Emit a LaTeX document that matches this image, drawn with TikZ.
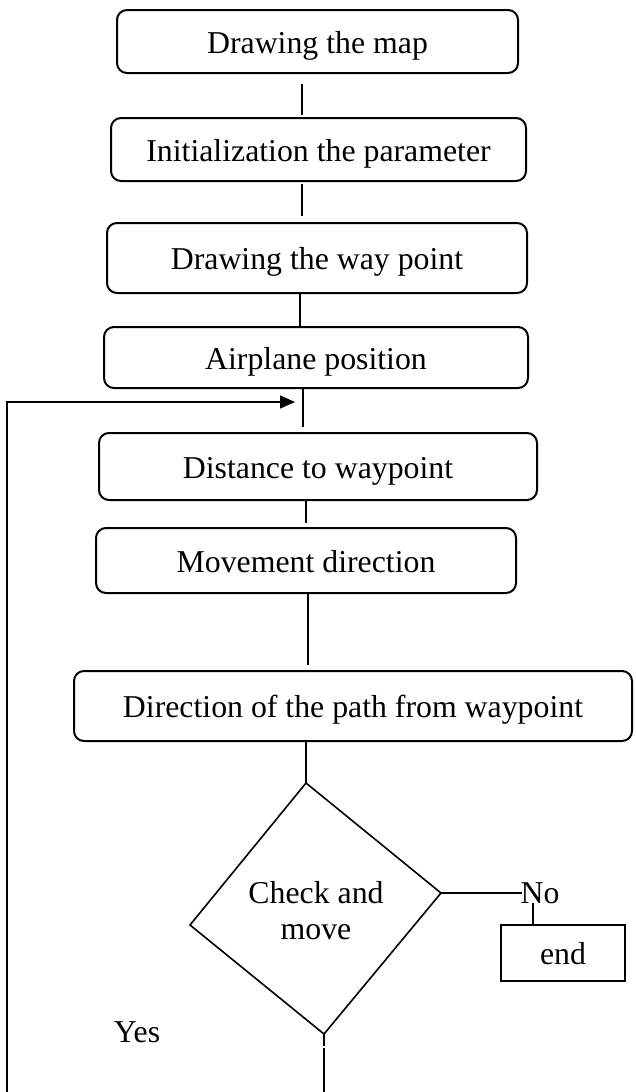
\documentclass[tikz,border=0pt]{standalone}
\usepackage{fontspec}
\setmainfont{Liberation Serif}
\usetikzlibrary{arrows.meta}
\begin{document}
\begin{tikzpicture}[x=1pt,y=-1pt,
  txt/.style={font=\fontsize{31.8}{36}\selectfont},
  stepbox/.style={txt,draw,line width=2pt,rounded corners=10pt,inner sep=0pt,text height=26pt,text depth=3pt},
  endbox/.style={txt,draw,line width=1.8pt,inner sep=0pt,text height=26pt,text depth=3pt},
  lbl/.style={txt,inner sep=0pt},
  conn/.style={line width=1.4pt},
  dia/.style={line width=1.6pt,line join=miter}]
\useasboundingbox (0,0) rectangle (635,1092);
% boxes
\node[stepbox,minimum width=401pt,minimum height=63pt] (b1) at (317.5,41.5) {Drawing the map};
\node[stepbox,minimum width=415pt,minimum height=63pt] (b2) at (318.5,149.5) {Initialization the parameter};
\node[stepbox,minimum width=420pt,minimum height=70pt] (b3) at (317,258) {Drawing the way point};
\node[stepbox,minimum width=424pt,minimum height=61pt] (b4) at (316,357.5) {Airplane position};
\node[stepbox,minimum width=438pt,minimum height=67pt] (b5) at (318,466.5) {Distance to waypoint};
\node[stepbox,minimum width=420pt,minimum height=65pt] (b6) at (306,560.5) {Movement direction};
\node[stepbox,minimum width=558pt,minimum height=70pt] (b7) at (353,706) {Direction of the path from waypoint};
\node[endbox,minimum width=124pt,minimum height=56pt] (endb) at (563,953) {end};
% decision
\coordinate (dT) at (306,783);
\coordinate (dR) at (441,893);
\coordinate (dB) at (324,1034);
\coordinate (dL) at (190,925);
\draw[dia] (dT) -- (dR) -- (dB) -- (dL) -- cycle;
\node[lbl,align=center] (chk) at (316,911) {Check and\\move};
\node[lbl,anchor=base] (no) at (540,903) {No};
\node[lbl,anchor=base] (yes) at (137,1042) {Yes};
% columns of connectors
\coordinate (L1) at (302,0);
\coordinate (L2) at (302,0);
\coordinate (L3) at (300,0);
\coordinate (L4) at (303,0);
\coordinate (L5) at (306,0);
\coordinate (L6) at (308,0);
\coordinate (L7) at (306,0);
\draw[conn,shorten <=10pt,shorten >=2pt] (b1.south -| L1) -- (b2.north -| L1);
\draw[conn,shorten <=2pt,shorten >=6pt] (b2.south -| L2) -- (b3.north -| L2);
\draw[conn] (b3.south -| L3) -- (b4.north -| L3);
\draw[conn,shorten >=5pt] (b4.south -| L4) -- (b5.north -| L4);
\draw[conn,shorten >=4pt] (b5.south -| L5) -- (b6.north -| L5);
\draw[conn,shorten >=5pt] (b6.south -| L6) -- (b7.north -| L6);
\draw[conn] (b7.south -| L7) -- (dT);
% no branch
\coordinate (noL) at (522,893);
\draw[conn] (dR) -- (noL);
\coordinate (L8) at (533,0);
\draw[conn] (no.base -| L8) -- (endb.north -| L8);
% yes branch down
\coordinate (y1) at (324,1046);
\coordinate (y2) at (324,1048);
\coordinate (y3) at (324,1092);
\draw[conn] (dB) -- (y1);
\draw[conn] (y2) -- (y3);
% loop back
\coordinate (loopB) at (7,1092);
\coordinate (loopT) at (295,402);
\draw[conn,-{Triangle[length=15pt,width=13pt]}] (loopB) |- (loopT);
\end{tikzpicture}
\end{document}
